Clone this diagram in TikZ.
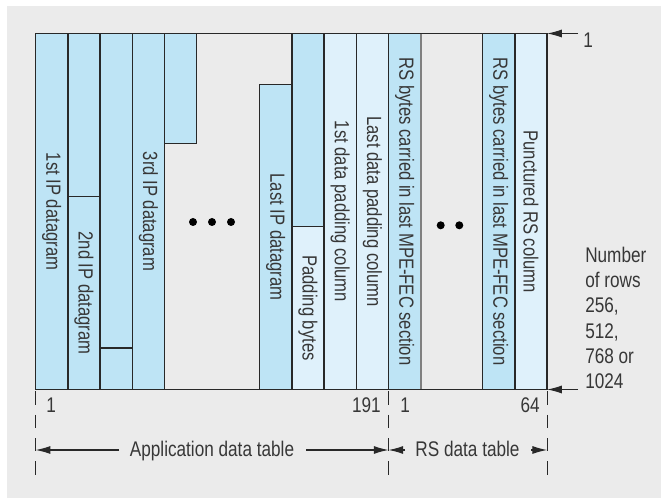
\documentclass[tikz,border=0pt]{standalone}
\usepackage{fontspec}
\setmainfont{Liberation Sans}[FakeStretch=0.81]
\usetikzlibrary{arrows.meta}
\definecolor{bggrey}{RGB}{235,235,235}
\definecolor{ipblue}{RGB}{190,228,245}
\definecolor{padblue}{RGB}{223,241,251}
\definecolor{linegrey}{RGB}{40,40,40}
\definecolor{txtgrey}{RGB}{55,55,55}

\begin{document}
\begin{tikzpicture}[x=0.75pt,y=0.75pt,yscale=-1,xscale=1,
  cell/.style={draw=linegrey,line width=1.1pt,fill=ipblue},
  padcell/.style={cell,fill=padblue},
  collbl/.style={rotate=-90,inner sep=0pt,text=txtgrey,font=\fontsize{15.4}{18}\selectfont},
  lbl/.style={inner sep=0pt,text=txtgrey,font=\fontsize{15.9}{19}\selectfont},
  dimarrow/.style={draw=linegrey,line width=0.8pt,-{Latex[length=11pt,width=6pt]}},
  guide/.style={draw=linegrey,line width=0.8pt,dash pattern={on 10pt off 7.5pt}},
  dotmark/.style={circle,fill=black,inner sep=0pt,minimum size=6pt}]
\useasboundingbox (0,0) rectangle (661,498);

%Shape: Rectangle [background]
\fill [bggrey] (7,6) rectangle (661,498);

%Straight Lines [table top and bottom]
\draw [cell,fill=none] (35.7,33.5) -- (547.1,33.5);
\draw [cell,fill=none] (35.7,389.5) -- (547.1,389.5);

%Shape: Rectangle [1st IP datagram]
\draw [cell] (35.7,33.5) rectangle (67.9,389.5);
%Shape: Rectangle
\draw [cell] (67.9,33.5) rectangle (100.1,196.7);
%Shape: Rectangle [2nd IP datagram]
\draw [cell] (67.9,196.7) rectangle (100.1,389.5);
%Shape: Rectangle
\draw [cell] (100.1,33.5) rectangle (132.3,348);
%Shape: Rectangle
\draw [cell] (100.1,348) rectangle (132.3,389.5);
%Shape: Rectangle [3rd IP datagram]
\draw [cell] (132.3,33.5) rectangle (164.5,389.5);
%Shape: Rectangle
\draw [cell] (164.5,33.5) rectangle (196.7,143.3);

%Shape: Rectangle [last IP datagram]
\draw [cell] (259.7,84.3) rectangle (291.9,389.5);
%Shape: Rectangle
\draw [cell] (291.9,33.5) rectangle (324.1,226.7);
%Shape: Rectangle [padding bytes]
\draw [padcell] (291.9,226.7) rectangle (324.1,389.5);
%Shape: Rectangle [padding columns]
\draw [padcell] (324.1,33.5) rectangle (356.3,389.5);
\draw [padcell] (356.3,33.5) rectangle (388.5,389.5);

%Shape: Rectangle [RS columns]
\draw [cell] (388.5,33.5) rectangle (420.7,389.5);
\draw [draw=gray,line width=1.3pt] (420.7,34) -- (420.7,389);
\draw [cell] (482.7,33.5) rectangle (514.9,389.5);
\draw [padcell] (514.9,33.5) rectangle (547.1,389.5);

% Text Node
\draw (51.8,211.5) node (ipfirst) [collbl] {1st IP datagram};
% Text Node
\draw (84,293) node (ipsecond) [collbl] {2nd IP datagram};
% Text Node
\draw (148.4,211.5) node (ipthird) [collbl] {3rd IP datagram};
% Text Node
\draw (275.8,237) node (iplast) [collbl] {Last IP datagram};
% Text Node
\draw (308,308) node (padbytes) [collbl] {Padding bytes};
% Text Node
\draw (340.2,211.5) node (padfirst) [collbl] {1st data padding column};
% Text Node
\draw (372.4,211.5) node (padlast) [collbl] {Last data padding column};
% Text Node
\draw (404.6,211.5) node (rsfirst) [collbl] {RS bytes carried in last MPE-FEC section};
% Text Node
\draw (498.8,211.5) node (rslast) [collbl] {RS bytes carried in last MPE-FEC section};
% Text Node
\draw (531,211.5) node (rspunct) [collbl] {Punctured RS column};

%Shape: Circle [dots]
\draw (193,222) node (dota) [dotmark] {};
\draw (212,222) node (dotb) [dotmark] {};
\draw (231,222) node (dotc) [dotmark] {};
\draw (440.7,225.3) node (dotd) [dotmark] {};
\draw (459.3,225.3) node (dote) [dotmark] {};

%Straight Lines [row arrows]
\coordinate (rowfirst) at (547.1,33.5);
\coordinate (rowfirsttail) at (578,33.5);
\coordinate (rowlast) at (547.1,389.5);
\coordinate (rowlasttail) at (578,389.5);
\draw [dimarrow] (rowfirsttail) -- (rowfirst);
\draw [dimarrow] (rowlasttail) -- (rowlast);
% Text Node
\draw (583,48) node (rowone) [lbl,anchor=base west] {1};
% Text Node
\draw (585,246.5) node (rowcount) [lbl,anchor=north west,align=left] {Number\\of rows\\256,\\512,\\768 or\\1024};

% Text Node [column numbers]
\draw (46,413) node (colone) [lbl,anchor=base west] {1};
\draw (381,413) node (colend) [lbl,anchor=base east] {191};
\draw (400,413) node (rsone) [lbl,anchor=base west] {1};
\draw (540,413) node (rsend) [lbl,anchor=base east] {64};

%Straight Lines [dashed guides]
\draw [guide] (35.7,391.5) -- (35.7,478);
\draw [guide] (388.5,391.5) -- (388.5,478);
\draw [guide] (547.1,391.5) -- (547.1,478);

% Text Node
\draw (212,456.7) node (appl) [lbl,anchor=base] {Application data table};
% Text Node
\draw (467.5,456.7) node (rstable) [lbl,anchor=base] {RS data table};

%Straight Lines [table width arrows]
\coordinate (appleft) at (35.7,450);
\coordinate (appleftin) at (119,450);
\coordinate (appright) at (388.5,450);
\coordinate (apprightin) at (306,450);
\coordinate (rsleft) at (388.5,450);
\coordinate (rsleftin) at (405,450);
\coordinate (rsright) at (547.1,450);
\coordinate (rsrightin) at (531,450);
\draw [dimarrow] (appleftin) -- (appleft);
\draw [dimarrow] (apprightin) -- (appright);
\draw [dimarrow] (rsleftin) -- (rsleft);
\draw [dimarrow] (rsrightin) -- (rsright);

\end{tikzpicture}
\end{document}
